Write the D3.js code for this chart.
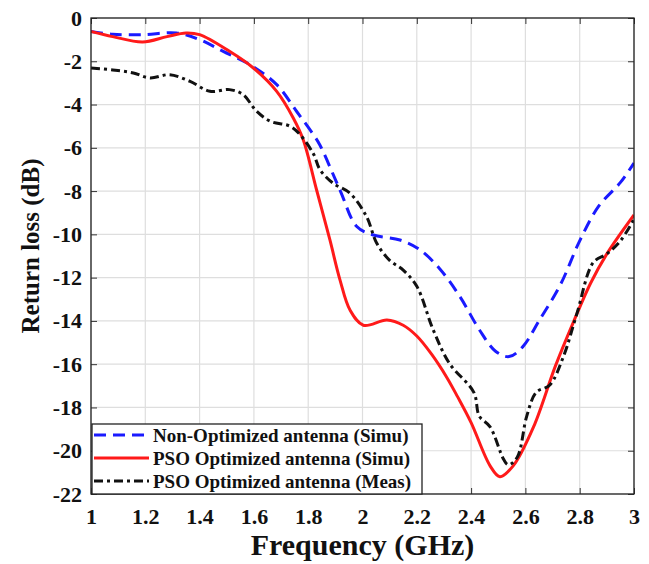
<!DOCTYPE html>
<html><head><meta charset="utf-8">
<script src="https://cdn.jsdelivr.net/npm/d3@7"></script>
<style>body{margin:0;background:#fff}svg{display:block}text{font-family:"Liberation Serif","Times New Roman",serif;font-weight:bold;fill:#111}</style>
</head><body><svg id="c" width="649" height="564"></svg>
<script>
const xTicks = [1,1.2,1.4,1.6,1.8,2,2.2,2.4,2.6,2.8,3];
const yTicks = [0,-2,-4,-6,-8,-10,-12,-14,-16,-18,-20,-22];
const seriesNames = ["Non-Optimized antenna (Simu)","PSO Optimized antenna (Simu)","PSO Optimized antenna (Meas)"];

const freqNonOpt = [1.0,1.08,1.19,1.315,1.40,1.487,1.586,1.684,1.757,1.819,1.843,1.917,1.979,2.04,2.138,2.21,2.285,2.36,2.43,2.49,2.54,2.59,2.65,2.73,2.80,2.87,2.95,3.0];
const rlNonOpt   = [-0.62,-0.75,-0.77,-0.69,-1.0,-1.54,-2.16,-3.08,-4.31,-5.39,-5.87,-7.95,-9.64,-10.03,-10.26,-10.7,-11.6,-12.9,-14.4,-15.4,-15.65,-15.2,-14.0,-12.3,-10.3,-8.7,-7.6,-6.7];

const freqPsoSim = [1.0,1.08,1.19,1.28,1.35,1.40,1.51,1.598,1.684,1.745,1.782,1.831,1.88,1.917,1.954,2.003,2.09,2.15,2.2,2.255,2.31,2.35,2.40,2.47,2.506,2.555,2.63,2.71,2.78,2.84,2.90,3.0];
const rlPsoSim   = [-0.62,-0.86,-1.11,-0.86,-0.69,-0.77,-1.54,-2.31,-3.39,-4.62,-5.64,-7.95,-10.26,-12.1,-13.5,-14.2,-13.96,-14.2,-14.7,-15.55,-16.6,-17.5,-18.7,-20.7,-21.2,-20.7,-18.9,-16.1,-13.96,-12.26,-10.9,-9.1];

const freqPsoMeas = [1.0,1.08,1.156,1.217,1.29,1.365,1.438,1.51,1.56,1.61,1.66,1.733,1.77,1.82,1.843,1.892,1.954,2.015,2.052,2.10,2.15,2.2,2.26,2.32,2.41,2.43,2.47,2.52,2.537,2.57,2.605,2.64,2.69,2.74,2.79,2.85,2.90,2.95,3.0];
const rlPsoMeas   = [-2.31,-2.4,-2.54,-2.77,-2.62,-2.93,-3.39,-3.31,-3.54,-4.31,-4.77,-5.0,-5.39,-6.3,-7.0,-7.64,-8.1,-9.18,-10.4,-11.2,-11.65,-12.4,-14.4,-15.96,-17.3,-18.4,-18.9,-20.4,-20.65,-20.3,-18.4,-17.3,-16.96,-15.65,-13.65,-11.3,-10.9,-10.3,-9.3];

const svg = d3.select("#c");
const L=91, R=634, T=18, B=494;
const x = d3.scaleLinear().domain([1,3]).range([L,R]);
const y = d3.scaleLinear().domain([-22,0]).range([B,T]);

// grid
const g = svg.append("g");
g.selectAll(".vg").data(xTicks).join("line").attr("x1",d=>x(d)).attr("x2",d=>x(d)).attr("y1",T).attr("y2",B).attr("stroke","#dedede").attr("stroke-width",1.2);
g.selectAll(".hg").data(yTicks).join("line").attr("y1",d=>y(d)).attr("y2",d=>y(d)).attr("x1",L).attr("x2",R).attr("stroke","#dedede").attr("stroke-width",1.2);

// axes
const xb = svg.append("g").attr("transform",`translate(0,${B})`).call(d3.axisBottom(x).tickValues(xTicks).tickSize(-6).tickPadding(14).tickFormat(d=>String(d)));
const xt = svg.append("g").attr("transform",`translate(0,${T})`).call(d3.axisTop(x).tickValues(xTicks).tickSize(-6).tickFormat(""));
const yl = svg.append("g").attr("transform",`translate(${L},0)`).call(d3.axisLeft(y).tickValues(yTicks).tickSize(-6).tickPadding(9).tickFormat(d=>d===0?"0":"-"+Math.abs(d)));
const yr = svg.append("g").attr("transform",`translate(${R},0)`).call(d3.axisRight(y).tickValues(yTicks).tickSize(-6).tickFormat(""));
[xb,xt,yl,yr].forEach(a=>{a.select(".domain").remove();a.selectAll("line").attr("stroke","#333").attr("stroke-width",1);a.selectAll("text").attr("font-family","Liberation Serif").attr("font-weight","bold").attr("font-size",22).attr("fill","#111");});

// clip
svg.append("clipPath").attr("id","clp").append("rect").attr("x",L).attr("y",T).attr("width",R-L).attr("height",B-T);
const line = d3.line().x(d=>x(d[0])).y(d=>y(d[1])).curve(d3.curveCatmullRom.alpha(0.5));
const pl = svg.append("g").attr("clip-path","url(#clp)");
const series = [
  {f:freqNonOpt,v:rlNonOpt,c:"#1a1aff",dash:"12,7"},
  {f:freqPsoSim,v:rlPsoSim,c:"#ff1a1a",dash:null},
  {f:freqPsoMeas,v:rlPsoMeas,c:"#111",dash:"9,4,3,4"}
];
series.forEach(s=>{
  pl.append("path").datum(d3.zip(s.f,s.v)).attr("d",line).attr("fill","none").attr("stroke",s.c).attr("stroke-width",3).attr("stroke-dasharray",s.dash);
});

// frame
svg.append("rect").attr("x",L).attr("y",T).attr("width",R-L).attr("height",B-T).attr("fill","none").attr("stroke","#222").attr("stroke-width",1.3);

// legend
const lg = svg.append("g");
lg.append("rect").attr("x",92).attr("y",424).attr("width",330).attr("height",70).attr("fill","#fff").attr("stroke","#222").attr("stroke-width",1.3);
const rowsY = [435,458,481];
series.forEach((s,i)=>{
  lg.append("line").attr("x1",94).attr("x2",149).attr("y1",rowsY[i]).attr("y2",rowsY[i]).attr("stroke",s.c).attr("stroke-width",3).attr("stroke-dasharray",s.dash);
  lg.append("text").attr("x",153).attr("y",rowsY[i]+6.5).attr("font-size",19).text(seriesNames[i]);
});

// titles
svg.append("text").attr("x",(L+R)/2).attr("y",555).attr("text-anchor","middle").attr("font-size",30).text("Frequency (GHz)");
svg.append("text").attr("transform","translate(39,246) rotate(-90)").attr("text-anchor","middle").attr("font-size",25).text("Return loss (dB)");
</script></body></html>
